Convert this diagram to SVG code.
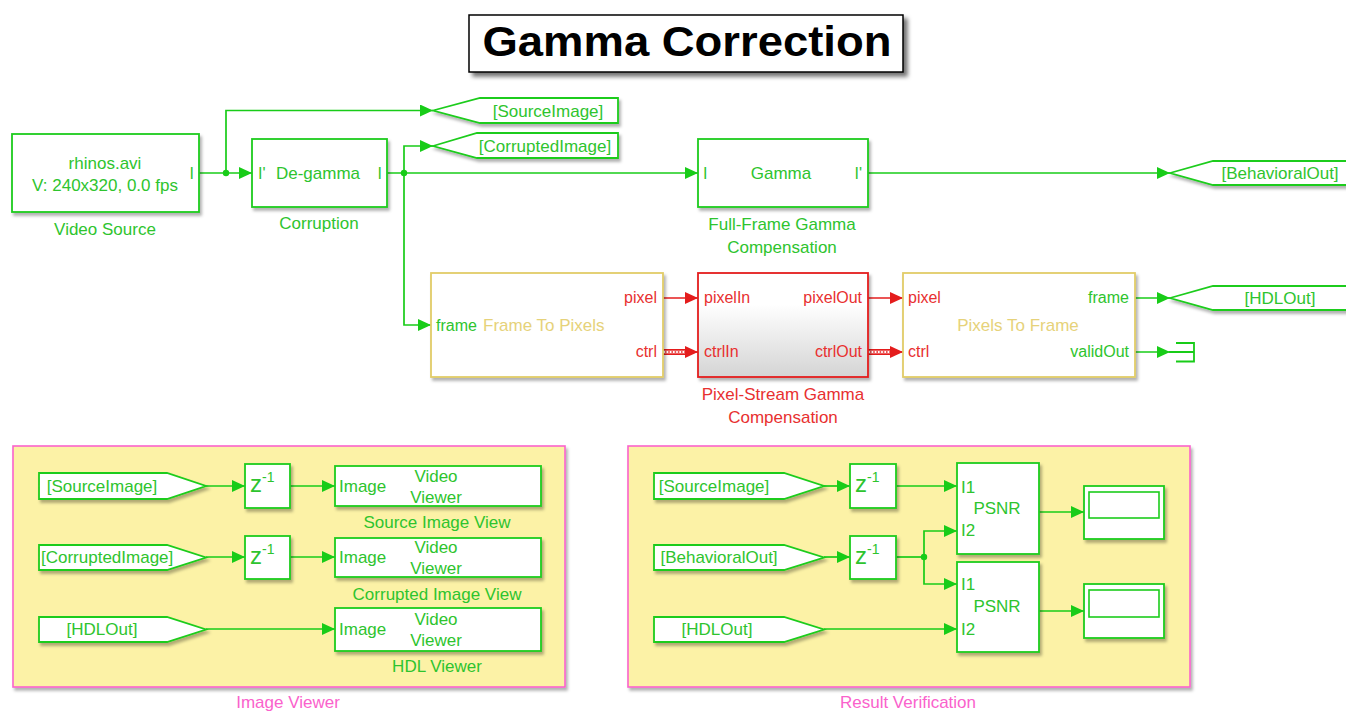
<svg xmlns="http://www.w3.org/2000/svg" width="1346" height="711" viewBox="0 0 1346 711">
<defs>
<style>
text{font-family:"Liberation Sans",Arial,Helvetica,sans-serif;}
.blk{fill:#fff;stroke:#1ccc1c;stroke-width:1.8;filter:url(#sh);}
.yb{fill:#fff;stroke:#e2cc68;stroke-width:1.8;filter:url(#sh);}
.rb{fill:url(#gr);stroke:#e41c1c;stroke-width:1.8;filter:url(#sh);}
.pan{fill:#fcf2a6;stroke:#fa62cc;stroke-width:1.6;filter:url(#sh);}
.g{fill:#2ec42e;font-size:17px;}
.gp{fill:#2ec42e;font-size:16px;}
.rp{fill:#e83030;font-size:16px;}
.rl{fill:#e83030;font-size:17px;}
.yt{fill:#e6d27a;font-size:17px;}
.pk{fill:#fa62cc;font-size:17px;}
.m{text-anchor:middle;}
.e{text-anchor:end;}
.w{fill:none;stroke:#18cc18;stroke-width:1.7;}
.wr{fill:none;stroke:#e41c1c;stroke-width:1.7;}
.dot{fill:#18cc18;}
</style>
<filter id="sh" x="-10%" y="-10%" width="130%" height="140%">
<feDropShadow dx="2" dy="3" stdDeviation="1.5" flood-color="#000" flood-opacity="0.3"/>
</filter>
<filter id="tsh" x="-10%" y="-20%" width="130%" height="160%">
<feDropShadow dx="4" dy="4" stdDeviation="2" flood-color="#000" flood-opacity="0.55"/>
</filter>
<linearGradient id="gr" x1="0" y1="0" x2="0" y2="1">
<stop offset="0" stop-color="#ffffff"/>
<stop offset="0.3" stop-color="#ffffff"/>
<stop offset="1" stop-color="#d4d4d4"/>
</linearGradient>
<marker id="ag" markerUnits="userSpaceOnUse" markerWidth="14" markerHeight="13" refX="13" refY="6" orient="auto">
<path d="M0,0 L13,6 L0,12 Z" fill="#18cc18"/>
</marker>
<marker id="ar" markerUnits="userSpaceOnUse" markerWidth="14" markerHeight="13" refX="13" refY="6" orient="auto">
<path d="M0,0 L13,6 L0,12 Z" fill="#e41c1c"/>
</marker>
</defs>

<rect width="1346" height="711" fill="#fff"/>

<g id="title">
<rect x="469" y="15" width="434" height="57" fill="#fff" stroke="#000" stroke-width="1.5" filter="url(#tsh)"/>
<text x="687" y="56" text-anchor="middle" font-weight="bold" font-size="43" textLength="409" lengthAdjust="spacingAndGlyphs" fill="#000">Gamma Correction</text>
</g>

<g id="panel-image-viewer">
<rect class="pan" x="13" y="446" width="552" height="241"/>
<text class="pk m" x="288" y="708">Image Viewer</text>
</g>
<g id="panel-result-verification">
<rect class="pan" x="628" y="446" width="562" height="241"/>
<text class="pk m" x="908" y="708">Result Verification</text>
</g>

<g id="connectors">
<path class="w" d="M199,173 H252" marker-end="url(#ag)"/>
<path class="w" d="M226,173 V110.5 H433" marker-end="url(#ag)"/>
<circle class="dot" cx="226" cy="173" r="3.2"/>
<path class="w" d="M387,173 H698" marker-end="url(#ag)"/>
<path class="w" d="M404,173 V146 H433" marker-end="url(#ag)"/>
<path class="w" d="M404,173 V325 H431" marker-end="url(#ag)"/>
<circle class="dot" cx="404" cy="173" r="3.2"/>
<path class="w" d="M868,173 H1170" marker-end="url(#ag)"/>
<path class="wr" d="M663,298 H698" marker-end="url(#ar)"/>
<path class="wr" d="M868,298 H903" marker-end="url(#ar)"/>
<path d="M663,352 H689" stroke="#e41c1c" stroke-width="6" fill="none"/>
<path d="M663,352 H689" stroke="#fff" stroke-width="2.6" fill="none"/>
<path d="M665,352 H689" stroke="#e41c1c" stroke-width="1.4" stroke-dasharray="1.6,1.6" fill="none"/>
<path class="wr" d="M686,352 H698" marker-end="url(#ar)"/>
<path d="M868,352 H894" stroke="#e41c1c" stroke-width="6" fill="none"/>
<path d="M868,352 H894" stroke="#fff" stroke-width="2.6" fill="none"/>
<path d="M870,352 H894" stroke="#e41c1c" stroke-width="1.4" stroke-dasharray="1.6,1.6" fill="none"/>
<path class="wr" d="M891,352 H903" marker-end="url(#ar)"/>
<path class="w" d="M1135,298 H1170" marker-end="url(#ag)"/>
<path class="w" d="M1135,352 H1170" marker-end="url(#ag)"/>
<path class="w" d="M206,486 H245" marker-end="url(#ag)"/>
<path class="w" d="M290,486 H335" marker-end="url(#ag)"/>
<path class="w" d="M206,557 H245" marker-end="url(#ag)"/>
<path class="w" d="M290,557 H335" marker-end="url(#ag)"/>
<path class="w" d="M206,629 H335" marker-end="url(#ag)"/>
<path class="w" d="M824,486 H850" marker-end="url(#ag)"/>
<path class="w" d="M896,486 H957" marker-end="url(#ag)"/>
<path class="w" d="M824,557 H850" marker-end="url(#ag)"/>
<path class="w" d="M896,557 H924"/>
<path class="w" d="M924,557 V531 H957" marker-end="url(#ag)"/>
<path class="w" d="M924,557 V584 H957" marker-end="url(#ag)"/>
<circle class="dot" cx="924" cy="557" r="3.2"/>
<path class="w" d="M824,629 H957" marker-end="url(#ag)"/>
<path class="w" d="M1039,512 H1084" marker-end="url(#ag)"/>
<path class="w" d="M1039,611 H1084" marker-end="url(#ag)"/>
</g>

<g id="video-source">
<rect class="blk" x="12" y="134" width="187" height="78"/>
<text class="g m" x="105" y="169">rhinos.avi</text>
<text class="g m" x="105" y="191">V: 240x320, 0.0 fps</text>
<text class="gp e" x="194" y="179">I</text>
<text class="g m" x="105" y="235">Video Source</text>
</g>

<g id="corruption">
<rect class="blk" x="252" y="139" width="135" height="68"/>
<text class="gp" x="258" y="179">I'</text>
<text class="g m" x="318" y="179">De-gamma</text>
<text class="gp e" x="382" y="179">I</text>
<text class="g m" x="319" y="229">Corruption</text>
</g>

<g id="goto-source-image">
<polygon class="blk" points="433,110.5 480,98 618,98 618,123 480,123"/>
<text class="g m" x="548" y="117">[SourceImage]</text>
</g>

<g id="goto-corrupted-image">
<polygon class="blk" points="433,146 477,133 618,133 618,158 477,158"/>
<text class="g m" x="545" y="152">[CorruptedImage]</text>
</g>

<g id="full-frame-gamma">
<rect class="blk" x="698" y="139" width="170" height="68"/>
<text class="gp" x="703" y="179">I</text>
<text class="g m" x="781" y="179">Gamma</text>
<text class="gp e" x="862" y="179">I'</text>
<text class="g m" x="782" y="230">Full-Frame Gamma</text>
<text class="g m" x="782" y="253">Compensation</text>
</g>

<g id="goto-behavioral-out">
<polygon class="blk" points="1170,173 1213,161 1352,161 1352,185 1213,185"/>
<text class="g m" x="1280" y="179">[BehavioralOut]</text>
</g>

<g id="frame-to-pixels">
<rect class="yb" x="431" y="273" width="232" height="104"/>
<text class="gp" x="436" y="331">frame</text>
<text class="yt" x="483" y="331">Frame To Pixels</text>
<text class="rp e" x="657" y="303">pixel</text>
<text class="rp e" x="657" y="357">ctrl</text>
</g>

<g id="pixel-stream-gamma">
<rect class="rb" x="698" y="273" width="170" height="104"/>
<text class="rp" x="704" y="303">pixelIn</text>
<text class="rp" x="704" y="357">ctrlIn</text>
<text class="rp e" x="862" y="303">pixelOut</text>
<text class="rp e" x="862" y="357">ctrlOut</text>
<text class="rl m" x="783" y="400">Pixel-Stream Gamma</text>
<text class="rl m" x="783" y="423">Compensation</text>
</g>

<g id="pixels-to-frame">
<rect class="yb" x="903" y="273" width="232" height="104"/>
<text class="rp" x="908" y="303">pixel</text>
<text class="rp" x="908" y="357">ctrl</text>
<text class="yt m" x="1018" y="331">Pixels To Frame</text>
<text class="gp e" x="1129" y="303">frame</text>
<text class="gp e" x="1129" y="357">validOut</text>
</g>

<g id="goto-hdl-out">
<polygon class="blk" points="1170,298 1213,286 1352,286 1352,310 1213,310"/>
<text class="g m" x="1280" y="304">[HDLOut]</text>
</g>

<g id="terminator">
<path d="M1176,343 H1194 V361.5 H1176 M1169,352 H1194" fill="none" stroke="#18cc18" stroke-width="1.8"/>
</g>

<g id="from-source-image-1">
<polygon class="blk" points="39,473 167,473 206,486 167,499 39,499"/>
<text class="g m" x="102" y="492">[SourceImage]</text>
</g>
<g id="delay-1">
<rect class="blk" x="245" y="464" width="45" height="44"/>
<text class="g" x="250" y="492"><tspan font-size="24">z</tspan><tspan font-size="14" dy="-10">-1</tspan></text>
</g>
<g id="source-image-view">
<rect class="blk" x="335" y="466" width="206" height="40"/>
<text class="g" x="339" y="492">Image</text>
<text class="g m" x="436" y="482">Video</text>
<text class="g m" x="436" y="503">Viewer</text>
<text class="g m" x="437" y="528">Source Image View</text>
</g>

<g id="from-corrupted-image">
<polygon class="blk" points="39,545 167,545 206,557.5 167,570 39,570"/>
<text class="g" x="41" y="563">[CorruptedImage]</text>
</g>
<g id="delay-2">
<rect class="blk" x="245" y="536" width="45" height="43"/>
<text class="g" x="250" y="564"><tspan font-size="24">z</tspan><tspan font-size="14" dy="-10">-1</tspan></text>
</g>
<g id="corrupted-image-view">
<rect class="blk" x="335" y="538" width="206" height="39"/>
<text class="g" x="339" y="563">Image</text>
<text class="g m" x="436" y="553">Video</text>
<text class="g m" x="436" y="574">Viewer</text>
<text class="g m" x="437" y="600">Corrupted Image View</text>
</g>

<g id="from-hdl-out-1">
<polygon class="blk" points="39,617 167,617 206,629.5 167,642 39,642"/>
<text class="g m" x="102" y="635">[HDLOut]</text>
</g>
<g id="hdl-viewer">
<rect class="blk" x="335" y="608" width="206" height="43"/>
<text class="g" x="339" y="635">Image</text>
<text class="g m" x="436" y="625">Video</text>
<text class="g m" x="436" y="646">Viewer</text>
<text class="g m" x="437" y="672">HDL Viewer</text>
</g>

<g id="from-source-image-2">
<polygon class="blk" points="654,473 784,473 824,486 784,499 654,499"/>
<text class="g m" x="714" y="492">[SourceImage]</text>
</g>
<g id="delay-3">
<rect class="blk" x="850" y="464" width="46" height="44"/>
<text class="g" x="855" y="492"><tspan font-size="24">z</tspan><tspan font-size="14" dy="-10">-1</tspan></text>
</g>
<g id="from-behavioral-out">
<polygon class="blk" points="654,545 784,545 824,557.5 784,570 654,570"/>
<text class="g m" x="719" y="563">[BehavioralOut]</text>
</g>
<g id="delay-4">
<rect class="blk" x="850" y="536" width="46" height="43"/>
<text class="g" x="855" y="564"><tspan font-size="24">z</tspan><tspan font-size="14" dy="-10">-1</tspan></text>
</g>
<g id="from-hdl-out-2">
<polygon class="blk" points="654,617 784,617 824,629.5 784,642 654,642"/>
<text class="g m" x="717" y="635">[HDLOut]</text>
</g>

<g id="psnr-1">
<rect class="blk" x="957" y="463" width="82" height="91"/>
<text class="g" x="961" y="493">I1</text>
<text class="g m" x="997" y="514">PSNR</text>
<text class="g" x="961" y="536">I2</text>
</g>
<g id="psnr-2">
<rect class="blk" x="957" y="562" width="82" height="90"/>
<text class="g" x="961" y="590">I1</text>
<text class="g m" x="997" y="612">PSNR</text>
<text class="g" x="961" y="635">I2</text>
</g>

<g id="display-1">
<rect class="blk" x="1084" y="486" width="80" height="53"/>
<rect x="1089" y="492" width="70" height="26" fill="#fff" stroke="#1ccc1c" stroke-width="1.6"/>
</g>
<g id="display-2">
<rect class="blk" x="1084" y="584" width="80" height="54"/>
<rect x="1089" y="590" width="70" height="27" fill="#fff" stroke="#1ccc1c" stroke-width="1.6"/>
</g>
</svg>
